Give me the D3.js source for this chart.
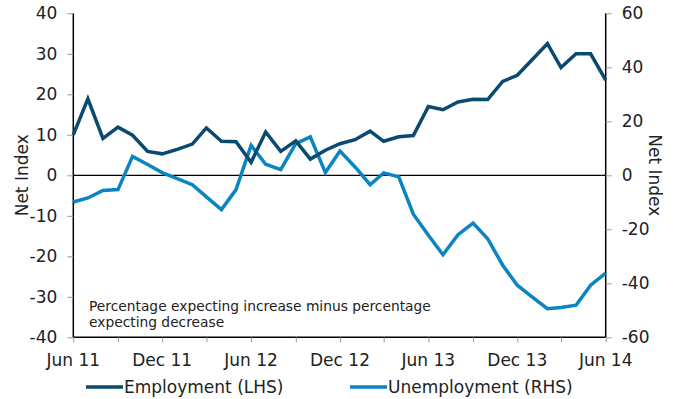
<!DOCTYPE html>
<html><head><meta charset="utf-8">
<script src="https://cdn.jsdelivr.net/npm/d3@7"></script>
<style>body{margin:0;background:#fff}svg{display:block}</style>
</head><body>
<script>
const months = d3.range(37).map(i => new Date(2011, 5 + i, 1));
const employment = [10.0,18.9,9.1,11.9,9.9,5.9,5.3,6.4,7.7,11.7,8.4,8.3,3.2,10.7,5.9,8.5,4.0,6.2,7.8,8.8,10.9,8.4,9.5,9.8,17.0,16.2,18.1,18.8,18.7,23.2,24.7,28.6,32.5,26.6,30.0,30.0,23.5];
const unemployment = [-9.9,-8.4,-5.6,-5.3,7.0,4.0,1.0,-1.2,-3.5,-8.0,-12.7,-5.3,11.1,4.1,2.1,11.7,14.2,1.0,9.0,3.1,-3.5,0.9,-0.6,-14.4,-22.2,-29.4,-22.0,-17.7,-23.5,-33.3,-40.7,-45.1,-49.4,-49.0,-48.1,-40.7,-36.2];
const leftTicks = [-40,-30,-20,-10,0,10,20,30,40];
const rightTicks = [-60,-40,-20,0,20,40,60];
const xLabelDates = [0,6,12,18,24,30,36].map(i => new Date(2011, 5 + i, 1));
const xLabels = ["Jun 11","Dec 11","Jun 12","Dec 12","Jun 13","Dec 13","Jun 14"];
const seriesNames = ["Employment (LHS)","Unemployment (RHS)"];
const colors = ["#0b4a6f","#0a85c2"];
const note = ["Percentage expecting increase minus percentage","expecting decrease"];

const W = 680, H = 399;
const m = {l:73.3, r:680-605.7, t:13.3, b:399-337.3};
const font = "'DejaVu Sans', sans-serif";
const svg = d3.select("body").append("svg").attr("width", W).attr("height", H)
  .style("font-family", font);

const x = d3.scaleTime().domain([months[0], months[36]]).range([m.l, W - m.r]);
const yL = d3.scaleLinear().domain([-40, 40]).range([H - m.b, m.t]);
const yR = d3.scaleLinear().domain([-60, 60]).range([H - m.b, m.t]);
const fmt = d => String(d);

// zero line
svg.append("line").attr("x1", m.l).attr("x2", W - m.r).attr("y1", yL(0)).attr("y2", yL(0))
  .attr("stroke", "#000").attr("stroke-width", 1.3);

// left axis
const gL = svg.append("g").attr("transform", `translate(${m.l},0)`)
  .call(d3.axisLeft(yL).tickValues(leftTicks).tickSize(6).tickPadding(10).tickFormat(fmt));
// right axis
const gR = svg.append("g").attr("transform", `translate(${W - m.r},0)`)
  .call(d3.axisRight(yR).tickValues(rightTicks).tickSize(6).tickPadding(10).tickFormat(fmt));
// bottom axis
const quarterTicks = d3.range(0, 37, 3).map(i => months[i]);
const gB = svg.append("g").attr("transform", `translate(0,${H - m.b})`)
  .call(d3.axisBottom(x).tickValues(quarterTicks).tickSize(5).tickFormat(() => ""));
svg.append("g").attr("transform", `translate(0,${H - m.b})`)
  .selectAll("text").data(xLabelDates).join("text")
  .attr("x", d => x(d)).attr("y", 29).attr("text-anchor", "middle")
  .attr("font-size", 17).attr("fill", "#222")
  .text((d, i) => xLabels[i]);

[gL, gR, gB].forEach(g => {
  g.select(".domain").attr("stroke", "#000").attr("stroke-width", 1.5);
  g.selectAll(".tick line").attr("stroke", "#999");
  g.selectAll(".tick text").attr("font-size", 17).attr("fill", "#222").style("font-family", font);
});
gB.select(".domain").attr("d", `M${m.l},0H${W - m.r}`);
gL.select(".domain").attr("d", `M0,${yL(-40)}V${yL(40)}`);
gR.select(".domain").attr("d", `M0,${yR(-60)}V${yR(60)}`);

// axis titles
svg.append("text").attr("transform", `translate(28,${yL(0)}) rotate(-90)`)
  .attr("text-anchor", "middle").attr("font-size", 17).attr("fill", "#222").text("Net Index");
svg.append("text").attr("transform", `translate(649,${yL(0)}) rotate(90)`)
  .attr("text-anchor", "middle").attr("font-size", 17).attr("fill", "#222").text("Net Index");

// lines
const lineL = d3.line().x((d, i) => x(months[i])).y(d => yL(d));
const lineR = d3.line().x((d, i) => x(months[i])).y(d => yR(d));
svg.append("path").datum(unemployment).attr("d", lineR).attr("fill", "none")
  .attr("stroke", colors[1]).attr("stroke-width", 3.5).attr("stroke-linejoin", "miter");
svg.append("path").datum(employment).attr("d", lineL).attr("fill", "none")
  .attr("stroke", colors[0]).attr("stroke-width", 3.5).attr("stroke-linejoin", "miter");

// note
svg.append("g").selectAll("text").data(note).join("text")
  .attr("x", 89).attr("y", (d, i) => 310.5 + i * 16.5)
  .attr("font-size", 13.8).attr("fill", "#222").text(d => d);

// legend
const legX = [86, 350];
const lg = svg.append("g");
seriesNames.forEach((s, i) => {
  lg.append("line").attr("x1", legX[i]).attr("x2", legX[i] + 37).attr("y1", 387).attr("y2", 387)
    .attr("stroke", colors[i]).attr("stroke-width", 3.5);
  lg.append("text").attr("x", legX[i] + 38).attr("y", 393).attr("font-size", 17)
    .attr("fill", "#222").text(s);
});
</script>
</body></html>
